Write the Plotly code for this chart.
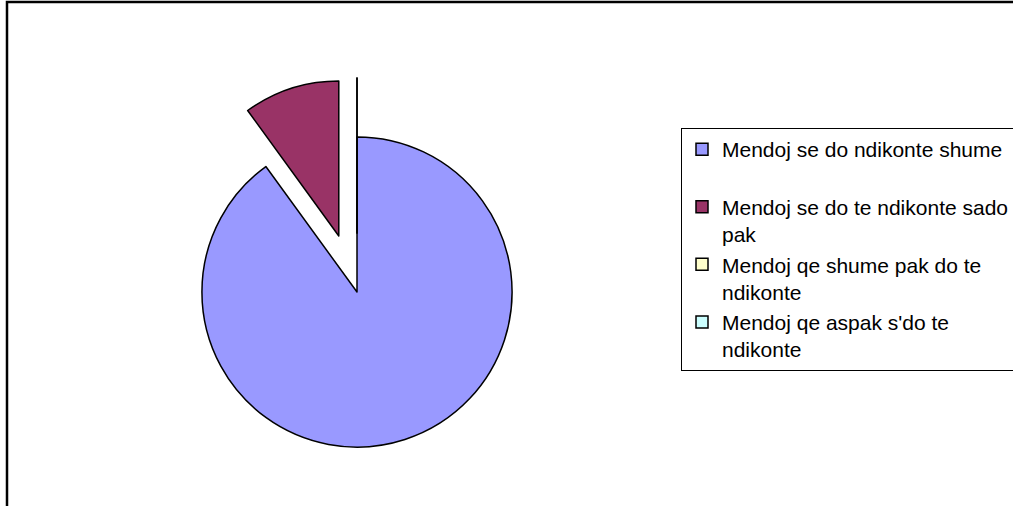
import plotly.graph_objects as go

# Data
labels = [
    "Mendoj se do ndikonte shume<br>\u00a0",
    "Mendoj se do te ndikonte sado<br>pak",
    "Mendoj qe shume pak do te<br>ndikonte",
    "Mendoj qe aspak s'do te<br>ndikonte",
]
values = [90, 10, 0, 0]
colors = ["#9999FF", "#993366", "#FFFFCC", "#CCFFFF"]
pulls = [0, 0.38, 0.38, 0.38]

W, H = 1013, 506

fig = go.Figure(
    go.Pie(
        labels=labels,
        values=values,
        sort=False,
        direction="clockwise",
        rotation=0,
        pull=pulls,
        textinfo="none",
        hoverinfo="label+percent",
        marker=dict(colors=colors, line=dict(color="black", width=1.5)),
        domain=dict(x=[143 / W, 571 / W], y=[0, 428 / H]),
    )
)

fig.update_layout(
    width=W,
    height=H,
    margin=dict(l=0, r=0, t=0, b=0, autoexpand=False),
    paper_bgcolor="white",
    plot_bgcolor="white",
    font=dict(family="Arial, Liberation Sans, sans-serif", color="black"),
    showlegend=True,
    legend=dict(
        x=681 / W,
        y=1 - 128 / H,
        xanchor="left",
        yanchor="top",
        bgcolor="white",
        bordercolor="black",
        borderwidth=1,
        font=dict(size=21, family="Arial, Liberation Sans, sans-serif", color="black"),
        valign="top",
        traceorder="normal",
    ),
    shapes=[
        dict(
            type="rect",
            xref="paper",
            yref="paper",
            x0=7 / W,
            x1=1.2,
            y0=-0.2,
            y1=1 - 2 / H,
            line=dict(color="black", width=2.5),
            fillcolor="rgba(0,0,0,0)",
            layer="above",
        )
    ],
)

fig.write_html(
    "out.html",
    config={"displayModeBar": False},
    post_script="document.body.style.margin='0px';document.body.style.overflow='hidden';",
)
